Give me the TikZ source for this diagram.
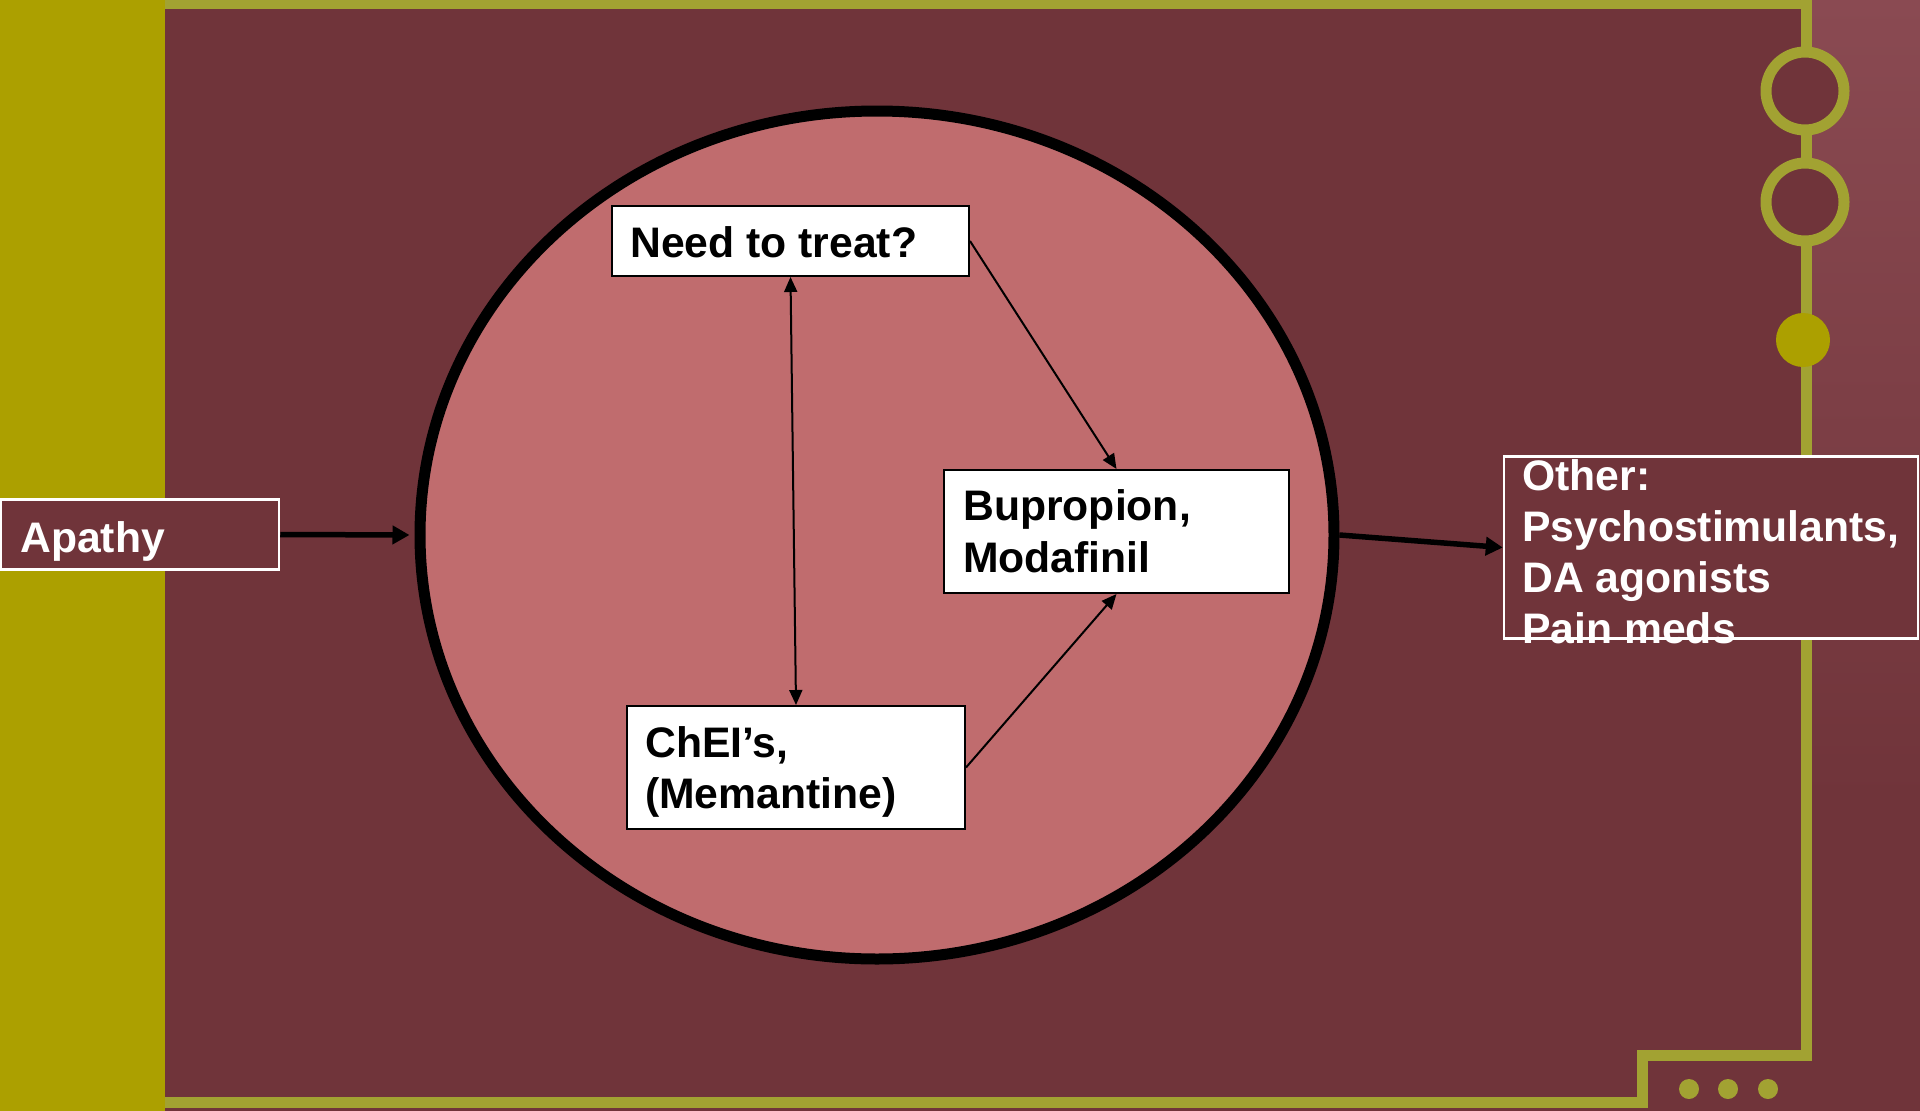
\documentclass[tikz,border=0pt]{standalone}
\usepackage{fontspec}
\setmainfont{Liberation Sans}
\usetikzlibrary{shapes.geometric,arrows.meta}
\definecolor{wine}{HTML}{70343A}
\definecolor{winelight}{HTML}{8A4A52}
\definecolor{rose}{HTML}{C06C6E}
\definecolor{mustard}{HTML}{ACA000}
\definecolor{trim}{HTML}{A2A232}

\begin{document}
\begin{tikzpicture}[x=1pt,y=-1pt,
  whitebox/.style={rectangle, draw=black, fill=white, line width=2pt, inner sep=0pt},
  darkbox/.style={rectangle, draw=white, fill=wine, line width=2.5pt, inner sep=0pt},
  txt/.style={inner sep=0pt, anchor=base west, font=\fontsize{42.7}{51}\selectfont\bfseries},
  flowarrow/.style={line width=2pt, -{Triangle[length=15pt,width=13pt]}},
  bigarrow/.style={line width=5.5pt, -{Triangle[length=17pt,width=18pt]}},
  trimline/.style={draw=trim, line width=11pt, line join=miter}]

% page and frame
\useasboundingbox (0,0) rectangle (1920,1111);
\fill[wine] (0,0) rectangle (1920,1111);
\fill[mustard] (0,0) rectangle (165,1111);
\shade[top color=winelight, bottom color=wine] (1812,0) rectangle (1920,800);

% circuit-style trim
\draw[trimline] (165,3.5) -- (1806,3.5) -- (1806,1055.5) -- (1642.5,1055.5)
  -- (1642.5,1102) -- (165,1102);
\draw[trimline, fill=wine] (1805,91) circle[radius=39];
\draw[trimline, fill=wine] (1805,202) circle[radius=39];
\fill[mustard] (1803,340) circle[radius=27];
\foreach \cx in {1689,1728,1768} \fill[trim] (\cx,1089) circle[radius=10];

% central ellipse
\node[ellipse, draw=black, fill=rose, line width=11pt, inner sep=0pt,
  minimum width=914pt, minimum height=848pt] (ell) at (877,535) {};

% boxes inside the ellipse
\node[whitebox, minimum width=357pt, minimum height=70pt] (need) at (790.5,241) {};
\node[txt] (needtxt) at (630,257) {Need to treat?};

\node[whitebox, minimum width=345pt, minimum height=123pt] (bup) at (1116.5,531.5) {};
\node[txt] (buptxt) at (963,520)
  {\fontsize{42.7}{52}\selectfont\begin{tabular}[t]{@{}l@{}}Bupropion,\\Modafinil\end{tabular}};

\node[whitebox, minimum width=338pt, minimum height=123pt] (chei) at (796,767.5) {};
\node[txt] (cheitxt) at (645,757)
  {\begin{tabular}[t]{@{}l@{}}ChEI’s,\\(Memantine)\end{tabular}};

% side boxes
\node[darkbox, minimum width=278pt, minimum height=70pt] (apathy) at (140,534.5) {};
\node[txt, text=white] (apathytxt) at (20,552) {Apathy};

\node[darkbox, minimum width=414pt, minimum height=182pt] (other) at (1711,547.5) {};
\node[txt, text=white] (othertxt) at (1522,490)
  {\begin{tabular}[t]{@{}l@{}}Other:\\Psychostimulants,\\DA agonists\\Pain meds\end{tabular}};

% connectors
\draw[bigarrow, shorten >=5pt] (apathy.east) -- (ell.west);
\draw[bigarrow] (ell.east) -- (other.west);
\draw[flowarrow] (need.east) -- (bup.north);
\draw[flowarrow] (chei.east) -- (bup.south);
\draw[flowarrow, {Triangle[length=15pt,width=13pt]}-{Triangle[length=15pt,width=13pt]}]
  (need.south) -- (chei.north);
\end{tikzpicture}
\end{document}
